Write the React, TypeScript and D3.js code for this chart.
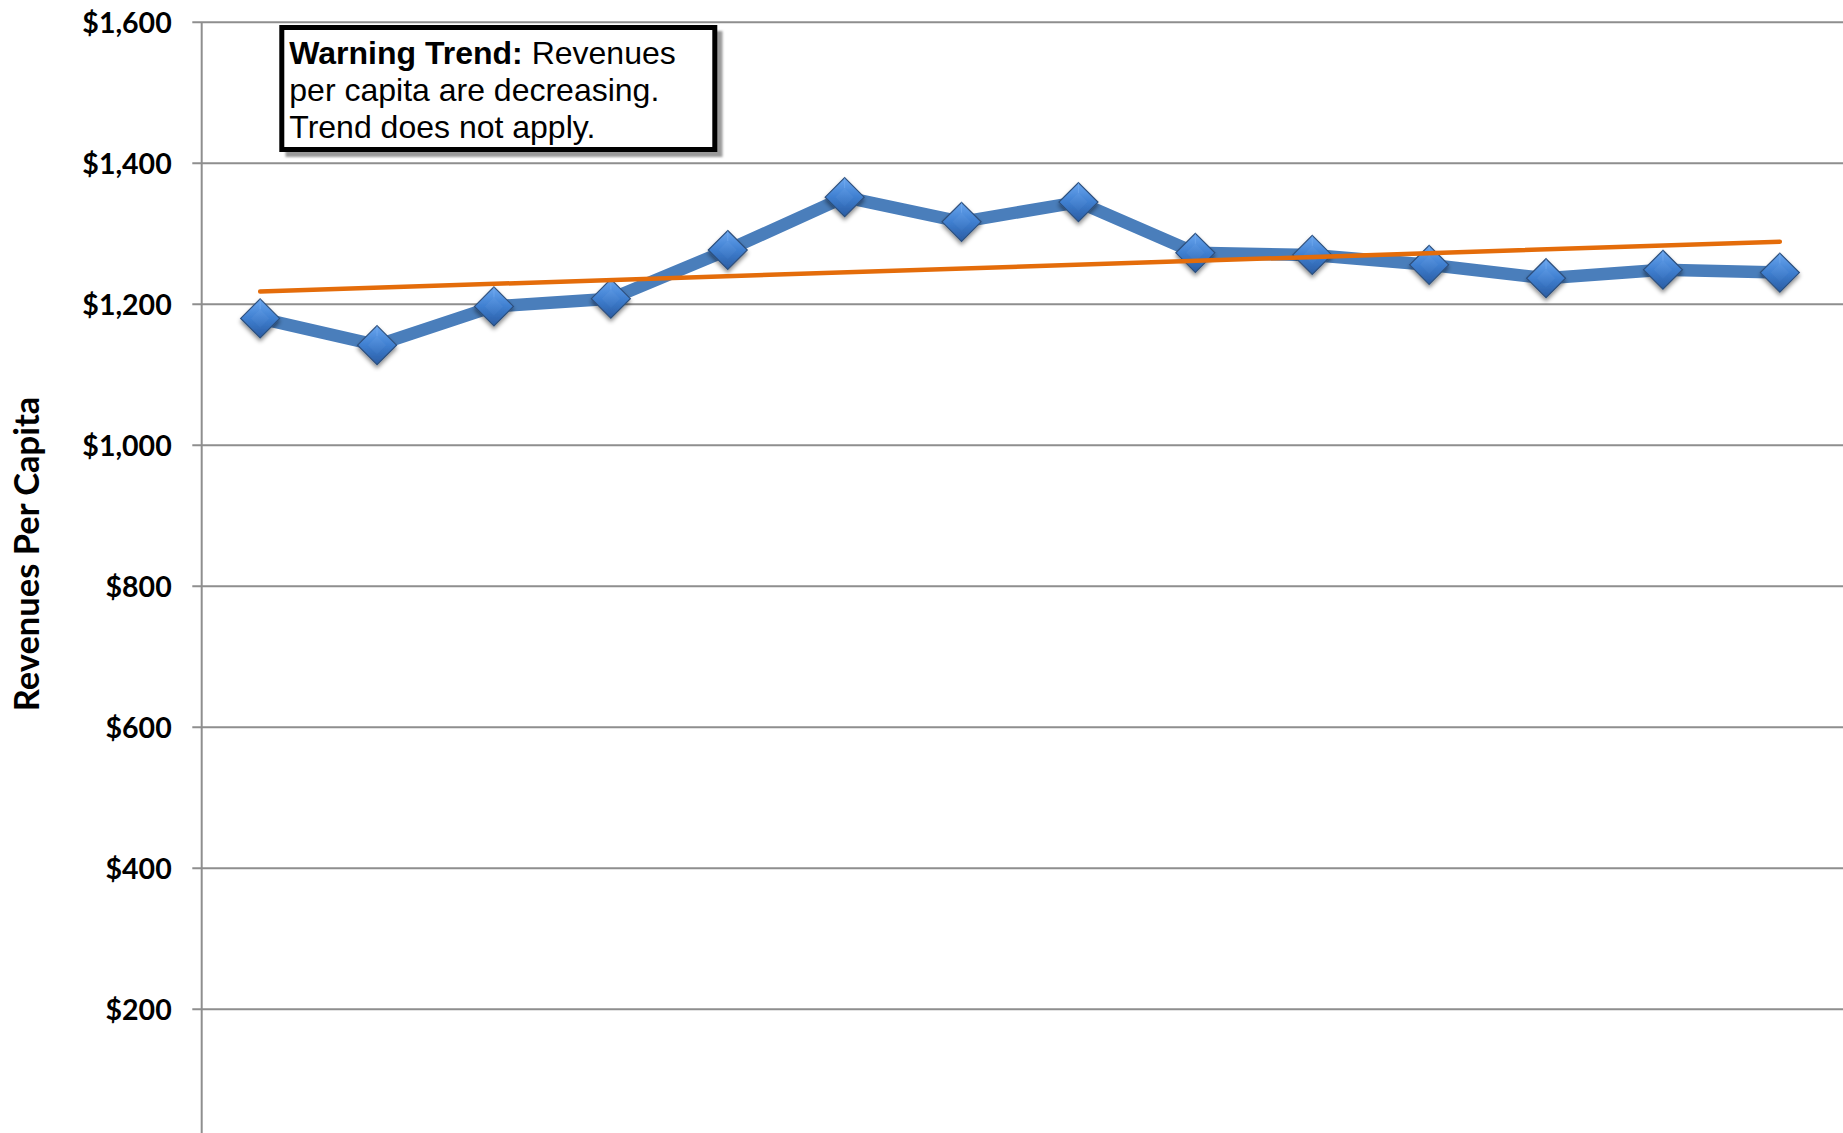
import React from "react";
import * as d3 from "d3";

const categories = ["P1", "P2", "P3", "P4", "P5", "P6", "P7", "P8", "P9", "P10", "P11", "P12", "P13", "P14"];
const revenuesPerCapita = [1180, 1142, 1197, 1208, 1277, 1352, 1317, 1345, 1273, 1270, 1256, 1237, 1249, 1245];
const yTicks = [200, 400, 600, 800, 1000, 1200, 1400, 1600];
const annotationLines = [
  { bold: "Warning Trend:", rest: " Revenues" },
  { bold: "", rest: "per capita are decreasing." },
  { bold: "", rest: "Trend does not apply." },
];

const W = 1843;
const H = 1133;
const PLOT_LEFT = 201.7;
const PLOT_RIGHT = 1838.3;

export default function App() {
  const y = d3.scaleLinear().domain([0, 1600]).range([1150.3, 22.3]);
  const x = d3.scaleBand<string>().domain(categories).range([PLOT_LEFT, PLOT_RIGHT]).padding(0);
  const cx = (c: string) => (x(c) as number) + x.bandwidth() / 2;

  const pts: [number, number][] = categories.map((c, i) => [cx(c), y(revenuesPerCapita[i])]);
  const line = d3.line<[number, number]>().x((d) => d[0]).y((d) => d[1]);

  // least-squares trend line
  const n = revenuesPerCapita.length;
  const idx = d3.range(n);
  const mx = d3.mean(idx) as number;
  const my = d3.mean(revenuesPerCapita) as number;
  const sxy = d3.sum(idx, (i) => (i - mx) * (revenuesPerCapita[i] - my));
  const sxx = d3.sum(idx, (i) => (i - mx) * (i - mx));
  const slope = sxy / sxx;
  const icpt = my - slope * mx;
  const trendPts: [number, number][] = [
    [cx(categories[0]), y(icpt)],
    [cx(categories[n - 1]), y(icpt + slope * (n - 1))],
  ];

  const fmt = (v: number) => "$" + d3.format(",")(v);
  const r = 19.5;
  const diamond = `M0,${-r}L${r},0L0,${r}L${-r},0Z`;
  const rIn = 9;
  const inner = `M0,${-rIn}L${rIn},0L0,${rIn}L${-rIn},0Z`;

  return (
    <svg
      width={W}
      height={H}
      viewBox={`0 0 ${W} ${H}`}
      style={{ position: "absolute", left: 0, top: 0, background: "#fff" }}
    >
      <defs>
        <linearGradient id="dg" x1="0" y1="0" x2="0" y2="1">
          <stop offset="0" stopColor="#6aa6ef" />
          <stop offset="0.5" stopColor="#3f7fd0" />
          <stop offset="1" stopColor="#2a5ca3" />
        </linearGradient>
        <linearGradient id="dgi" x1="0" y1="0" x2="0" y2="1">
          <stop offset="0" stopColor="#5b97e2" />
          <stop offset="1" stopColor="#3a75c2" />
        </linearGradient>
        <filter id="ds" x="-50%" y="-50%" width="200%" height="200%">
          <feDropShadow dx="0" dy="3" stdDeviation="2.2" floodColor="#000" floodOpacity="0.45" />
        </filter>
        <filter id="bs" x="-10%" y="-10%" width="120%" height="130%">
          <feGaussianBlur stdDeviation="0.8" />
        </filter>
      </defs>

      {/* gridlines */}
      {yTicks.map((t) => (
        <line key={t} x1={192.3} x2={W} y1={y(t)} y2={y(t)} stroke="#8e8e8e" strokeWidth={2} />
      ))}
      {/* y axis */}
      <line x1={PLOT_LEFT} x2={PLOT_LEFT} y1={y(1600)} y2={H} stroke="#8e8e8e" strokeWidth={2} />

      {/* tick labels */}
      {yTicks.map((t) => (
        <text
          key={"l" + t}
          x={171.7}
          y={y(t)}
          dy="0.36em"
          textAnchor="end"
          fontFamily="Lato, 'Open Sans', sans-serif"
          fontWeight="bold"
          fontSize={28.5}
          fill="#000"
        >
          {fmt(t)}
        </text>
      ))}

      {/* y axis title */}
      <text
        transform={`translate(39,554) rotate(-90)`}
        textAnchor="middle"
        fontFamily="Lato, 'Open Sans', sans-serif"
        fontWeight="bold"
        fontSize={34.5}
        fill="#000"
      >
        Revenues Per Capita
      </text>

      {/* data line */}
      <path d={line(pts) as string} fill="none" stroke="#4a7ebb" strokeWidth={12.5} strokeLinejoin="round" />

      {/* markers */}
      {pts.map(([px, py], i) => (
        <g key={"m" + i} transform={`translate(${px},${py})`}>
          <path d={diamond} fill="url(#dg)" stroke="#2d4f7c" strokeWidth={1.2} filter="url(#ds)" />
          <path d={`M0,${-r}L0,${-rIn}`} stroke="#7db2f2" strokeWidth={0.8} opacity={0.6} />
          <path d={inner} fill="url(#dgi)" opacity={0.7} />
        </g>
      ))}

      {/* trend line */}
      <path d={line(trendPts) as string} fill="none" stroke="#e46c0a" strokeWidth={4.5} strokeLinecap="round" />

      {/* annotation */}
      <rect x={285.5} y={31} width={437} height={126} fill="#9a9a9a" filter="url(#bs)" />
      <rect x={281.8} y={27.5} width={433} height={122} fill="#fff" stroke="#000" strokeWidth={5} />
      {annotationLines.map((l, i) => (
        <text
          key={"a" + i}
          x={289.3}
          y={63.5 + i * 37.4}
          fontFamily="'Liberation Sans', Arial, sans-serif"
          fontSize={32}
          fill="#000"
        >
          {l.bold && <tspan fontWeight="bold">{l.bold}</tspan>}
          <tspan>{l.rest}</tspan>
        </text>
      ))}
    </svg>
  );
}
